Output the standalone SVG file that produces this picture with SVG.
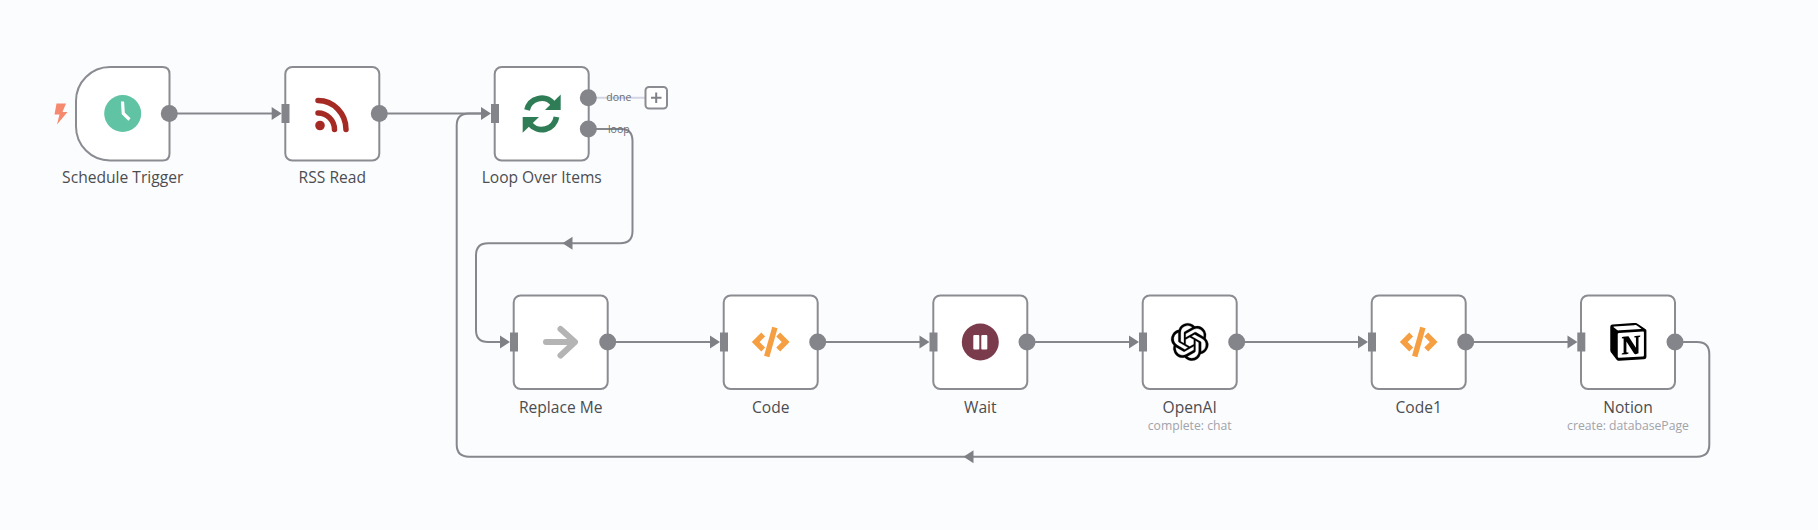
<svg xmlns="http://www.w3.org/2000/svg" width="1818" height="530" viewBox="0 0 1818 530">
<style>
.nb{fill:#fff;stroke:#8b8c91;stroke-width:2}
.conn{fill:none;stroke:#86878c;stroke-width:2}
.ah{fill:#7f8085}
.port{fill:#84858a}
.lbl{font-family:"Open Sans","Noto Sans",sans-serif;font-size:15.600px;font-weight:500;fill:#4c4d50;text-anchor:middle}
.sub{font-family:"Open Sans","Noto Sans",sans-serif;font-size:12.200px;fill:#a2a3a9;text-anchor:middle}
.pl{font-family:"Open Sans","Noto Sans",sans-serif;font-size:10.500px;fill:#6b6c70;text-anchor:middle}
</style>
<defs>
<rect id="box" class="nb" x="-47" y="-46.500" width="94" height="93.500" rx="7"/>
<rect id="in" class="port" x="-4" y="-9.500" width="8" height="19"/>
<polygon id="ar" class="ah" points="-10,-6.500 0,0 -10,6.500"/>
<circle id="out" class="port" r="8.500"/>
<g id="codeicon" fill="none" stroke="#f59f42" stroke-width="5.500">
<path d="M-7.500,-7.500 L-15,0 L-7.500,7.500"/><path d="M7.500,-7.500 L15,0 L7.500,7.500"/><path d="M4.200,-14.500 L-4,14.500"/>
</g>
</defs>
<rect width="1818" height="530" fill="#fbfcfe"/>
<g id="connectors">
<path class="conn" d="M170,113.500H272"/>
<path class="conn" d="M379,113.500H481"/>
<path class="conn" d="M588,129H621Q632.500,129 632.500,141V231Q632.500,243.300 620,243.300H488Q476,243.300 476,255.500V330Q476,342 488,342H500"/>
<path class="conn" d="M607,342H710"/>
<path class="conn" d="M817,342H920"/>
<path class="conn" d="M1027,342H1129"/>
<path class="conn" d="M1236,342H1358"/>
<path class="conn" d="M1465,342H1568"/>
<path class="conn" d="M1675,342H1697Q1709.300,342 1709.300,354V444.500Q1709.300,456.700 1697,456.700H469Q456.700,456.700 456.700,444.500V125.500Q456.700,113.500 469,113.500H481"/>
<path d="M590,97.700H645" fill="none" stroke="#d2d6e4" stroke-width="2"/>
<use href="#ar" x="281.700" y="113.500"/>
<use href="#ar" x="491" y="113.500"/>
<use href="#ar" x="510" y="342"/>
<use href="#ar" x="720" y="342"/>
<use href="#ar" x="929.500" y="342"/>
<use href="#ar" x="1139" y="342"/>
<use href="#ar" x="1368" y="342"/>
<use href="#ar" x="1577.500" y="342"/>
<polygon class="ah" points="562.500,243.300 572.500,236.800 572.500,249.800"/>
<polygon class="ah" points="963.500,456.700 973.500,450.200 973.500,463.200"/>
</g>
<g id="schedule-trigger">
<path class="nb" d="M110,67H162.500Q169.500,67 169.500,74V153.500Q169.500,160.500 162.500,160.500H110A34,34 0 0 1 76,126.500V101A34,34 0 0 1 110,67Z"/>
<path d="M56.500,103.500H66L62.500,112H67.500L57,124.500L59.500,114.500H54.500Z" fill="#f58a6e"/>
<circle cx="122.700" cy="113.500" r="18.500" fill="#5fc3a4"/>
<path d="M122.500,101.500L123.300,113.500L129.500,119.500" fill="none" stroke="#fff" stroke-width="3.200"/>
<circle class="port" cx="169.300" cy="113.500" r="8.500"/>
<text class="lbl" x="122.700" y="183.300">Schedule Trigger</text>
</g>
<g id="rss-read">
<use href="#box" x="332.300" y="113.500"/>
<use href="#in" x="285.500" y="113.500"/>
<circle cx="320" cy="125.500" r="4.800" fill="#a52a24"/>
<path d="M318,113A16.500,16.500 0 0 1 334.500,129.500M318,100.500A28,29 0 0 1 346,129.500" fill="none" stroke="#a52a24" stroke-width="5.500" stroke-linecap="round"/>
<use href="#out" x="379.300" y="113.500"/>
<text class="lbl" x="332.300" y="183.300">RSS Read</text>
</g>
<g id="loop-over-items">
<use href="#box" x="541.700" y="113.500"/>
<use href="#in" x="495" y="113.500"/>
<path d="M527,110A15,15 0 0 1 553,103.500M556.500,117A15,15 0 0 1 530,124" fill="none" stroke="#2f7d56" stroke-width="5.800"/>
<polygon points="560.700,94.500 560.700,110 545,110" fill="#2f7d56"/>
<polygon points="522.700,132.700 522.700,117 539,117" fill="#2f7d56"/>
<use href="#out" x="588.300" y="97.700"/>
<use href="#out" x="588.300" y="129"/>
<text class="pl" x="618.800" y="101">done</text>
<text class="pl" x="618.800" y="132.700">loop</text>
<rect x="645.500" y="87" width="21.500" height="21.500" rx="3.500" fill="#fff" stroke="#8b8c91" stroke-width="2"/>
<path d="M651,97.700H661.500M656.200,92.500V103" fill="none" stroke="#808186" stroke-width="2"/>
<text class="lbl" x="541.700" y="183.300">Loop Over Items</text>
</g>
<g id="replace-me">
<use href="#box" x="560.700" y="342"/>
<use href="#in" x="514" y="342"/>
<path d="M546,342H574M560.500,329L575,342L560.500,355.500" fill="none" stroke="#b4b4b4" stroke-width="6" stroke-linecap="round" stroke-linejoin="round"/>
<use href="#out" x="607.700" y="342"/>
<text class="lbl" x="560.700" y="412.700">Replace Me</text>
</g>
<g id="code">
<use href="#box" x="770.700" y="342"/>
<use href="#in" x="724" y="342"/>
<use href="#codeicon" x="770.700" y="342"/>
<use href="#out" x="817.700" y="342"/>
<text class="lbl" x="770.700" y="412.700">Code</text>
</g>
<g id="wait">
<use href="#box" x="980.300" y="342"/>
<use href="#in" x="933.500" y="342"/>
<circle cx="980.300" cy="342" r="18.500" fill="#7a3b4d"/>
<rect x="973.300" y="335" width="6" height="14.500" rx="1" fill="#fff"/>
<rect x="981.300" y="335" width="6" height="14.500" rx="1" fill="#fff"/>
<use href="#out" x="1027" y="342"/>
<text class="lbl" x="980.300" y="412.700">Wait</text>
</g>
<g id="openai">
<use href="#box" x="1189.700" y="342"/>
<use href="#in" x="1143" y="342"/>
<path transform="translate(1171,323.200) scale(1.56)" fill="#000" stroke="#000" stroke-width="0.150" d="M22.2819 9.8211a5.9847 5.9847 0 0 0-.5157-4.9108 6.0462 6.0462 0 0 0-6.5098-2.9A6.0651 6.0651 0 0 0 4.9807 4.1818a5.9847 5.9847 0 0 0-3.9977 2.9 6.0462 6.0462 0 0 0 .7427 7.0966 5.98 5.98 0 0 0 .511 4.9107 6.051 6.051 0 0 0 6.5146 2.9001A5.9847 5.9847 0 0 0 13.2599 24a6.0557 6.0557 0 0 0 5.7718-4.2058 5.9894 5.9894 0 0 0 3.9977-2.9001 6.0557 6.0557 0 0 0-.7475-7.0729zm-9.022 12.6081a4.4755 4.4755 0 0 1-2.8764-1.0408l.1419-.0804 4.7783-2.7582a.7948.7948 0 0 0 .3927-.6813v-6.7369l2.02 1.1686a.071.071 0 0 1 .038.052v5.5826a4.504 4.504 0 0 1-4.4945 4.4944zm-9.6607-4.1254a4.4708 4.4708 0 0 1-.5346-3.0137l.142.0852 4.783 2.7582a.7712.7712 0 0 0 .7806 0l5.8428-3.3685v2.3324a.0804.0804 0 0 1-.0332.0615L9.74 19.9502a4.4992 4.4992 0 0 1-6.1408-1.6464zM2.3408 7.8956a4.485 4.485 0 0 1 2.3655-1.9728V11.6a.7664.7664 0 0 0 .3879.6765l5.8144 3.3543-2.0201 1.1685a.0757.0757 0 0 1-.071 0l-4.8303-2.7865A4.504 4.504 0 0 1 2.3408 7.872zm16.5963 3.8558L13.1038 8.364 15.1192 7.2a.0757.0757 0 0 1 .071 0l4.8303 2.7913a4.4944 4.4944 0 0 1-.6765 8.1042v-5.6772a.79.79 0 0 0-.407-.667zm2.0107-3.0231l-.142-.0852-4.7735-2.7818a.7759.7759 0 0 0-.7854 0L9.409 9.2297V6.8974a.0662.0662 0 0 1 .0284-.0615l4.8303-2.7866a4.4992 4.4992 0 0 1 6.6802 4.66zM8.3065 12.863l-2.02-1.1638a.0804.0804 0 0 1-.038-.0567V6.0742a4.4992 4.4992 0 0 1 7.3757-3.4537l-.142.0805L8.704 5.459a.7948.7948 0 0 0-.3927.6813zm1.0976-2.3654l2.602-1.4998 2.6069 1.4998v2.9994l-2.5974 1.4997-2.6067-1.4997Z"/>
<use href="#out" x="1236.700" y="342"/>
<text class="lbl" x="1189.700" y="412.700">OpenAI</text>
<text class="sub" x="1189.700" y="430">complete: chat</text>
</g>
<g id="code1">
<use href="#box" x="1418.700" y="342"/>
<use href="#in" x="1372" y="342"/>
<use href="#codeicon" x="1418.700" y="342"/>
<use href="#out" x="1465.700" y="342"/>
<text class="lbl" x="1418.700" y="412.700">Code1</text>
</g>
<g id="notion">
<use href="#box" x="1628" y="342"/>
<use href="#in" x="1581.300" y="342"/>
<path transform="translate(1609.500,323) scale(1.57)" fill="#000" d="M4.459 4.208c.746.606 1.026.56 2.428.466l13.215-.793c.28 0 .047-.28-.046-.326L17.86 1.968c-.42-.326-.981-.7-2.055-.607L3.01 2.295c-.466.046-.56.28-.374.466zm.793 3.08v13.904c0 .747.373 1.027 1.214.98l14.523-.84c.841-.046.935-.56.935-1.167V6.354c0-.606-.233-.933-.748-.887l-15.177.887c-.56.047-.747.327-.747.933zm14.337.745c.093.42 0 .84-.42.888l-.7.14v10.264c-.608.327-1.168.514-1.635.514-.748 0-.935-.234-1.495-.933l-4.577-7.186v6.952L12.21 19s0 .84-1.168.84l-3.222.186c-.093-.186 0-.653.327-.746l.84-.233V9.854L7.822 9.76c-.094-.42.14-1.026.793-1.073l3.456-.233 4.764 7.279v-6.44l-1.215-.139c-.093-.514.28-.887.747-.933zM1.936 1.035l13.31-.98c1.634-.14 2.055-.047 3.082.7l4.249 2.986c.7.513.934.653.934 1.213v16.378c0 1.026-.373 1.634-1.68 1.726l-15.458.934c-.98.047-1.448-.093-1.962-.747l-3.129-4.06c-.56-.747-.793-1.306-.793-1.96V2.667c0-.839.374-1.54 1.447-1.632z"/>
<use href="#out" x="1675" y="342"/>
<text class="lbl" x="1628" y="412.700">Notion</text>
<text class="sub" x="1628" y="430">create: databasePage</text>
</g>
</svg>
